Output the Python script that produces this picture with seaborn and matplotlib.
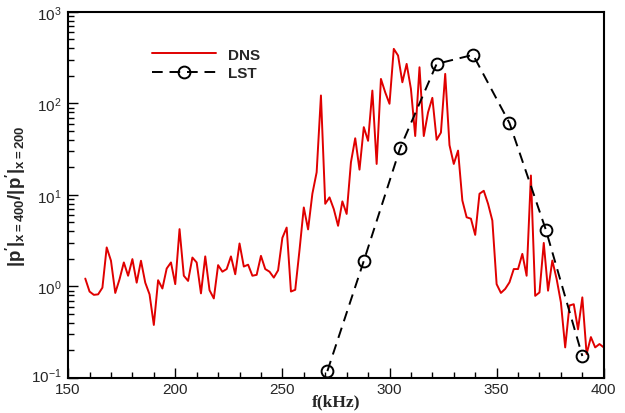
import numpy as np
import pandas as pd
import seaborn as sns
import matplotlib
matplotlib.use("Agg")
import matplotlib.pyplot as plt
from matplotlib.ticker import LogLocator, MultipleLocator, NullFormatter
from matplotlib.transforms import ScaledTranslation

# DNS amplitude ratio, sampled every 2 kHz from 158 to 400 kHz
dns_freq = list(range(158, 401, 2))
dns_ratio = [
    1.22, 0.88, 0.81, 0.82, 0.97, 2.67, 1.91, 0.85, 1.20, 1.83,   # 158-176
    1.31, 1.99, 1.10, 1.91, 1.10, 0.82, 0.38, 1.17, 0.95, 1.57,   # 178-196
    1.83, 1.06, 4.23, 1.31, 1.15, 2.07, 1.83, 0.84, 2.13, 0.91,   # 198-216
    0.74, 1.71, 1.45, 1.55, 2.13, 1.36, 2.95, 1.65, 1.73, 1.31,   # 218-236
    1.34, 2.16, 1.55, 1.45, 1.25, 1.50, 3.40, 4.40, 0.88, 0.92,   # 238-256
    2.50, 7.30, 4.20, 10.3, 17.7, 122.0, 8.0, 9.4, 7.0, 4.6,      # 258-276
    8.5, 6.2, 22.7, 41.6, 18.9, 55.0, 39.0, 138.0, 21.8, 185.0,   # 278-296
    132.0, 99.0, 394.0, 333.0, 170.0, 270.0, 144.0, 44.0, 248.0, 44.0,  # 298-316
    80.0, 115.0, 40.0, 48.0, 210.0, 35.0, 21.8, 30.5, 8.7, 5.7,   # 318-336
    5.5, 3.66, 10.3, 11.1, 8.0, 5.25, 1.06, 0.85, 0.94, 1.11,     # 338-356
    1.55, 1.55, 2.27, 1.31, 16.3, 0.79, 0.86, 2.99, 0.90, 1.92,   # 358-376
    1.21, 0.67, 0.216, 0.62, 0.64, 0.34, 0.76, 0.183, 0.28, 0.216,  # 378-396
    0.235, 0.216,                                                 # 398-400
]

# Linear stability theory prediction
lst_freq = [271, 288, 305, 322, 339, 356, 373, 390]
lst_ratio = [0.119, 1.9, 32.6, 270.0, 339.0, 61.0, 4.14, 0.174]

sns.set_style("ticks")
plt.rcParams["font.family"] = ["Liberation Sans", "DejaVu Sans"]
plt.rcParams["mathtext.fontset"] = "custom"
plt.rcParams["mathtext.rm"] = "Liberation Sans"
plt.rcParams["mathtext.it"] = "Liberation Sans:italic"
plt.rcParams["mathtext.bf"] = "Liberation Sans:bold"

dns = pd.DataFrame({"f": dns_freq, "ratio": dns_ratio})
lst = pd.DataFrame({"f": lst_freq, "ratio": lst_ratio})

fig = plt.figure(figsize=(6.25, 4.14), dpi=100)
ax = fig.add_axes([0.109, 0.0845, 0.857, 0.8845])

sns.lineplot(data=dns, x="f", y="ratio", ax=ax, color="#e00000",
             linewidth=1.4, label="DNS", sort=False)
sns.lineplot(data=lst, x="f", y="ratio", ax=ax, color="black",
             linewidth=1.4, linestyle=(0, (5.5, 3.5)), marker="o",
             markersize=8.5, markerfacecolor="none", markeredgecolor="black",
             markeredgewidth=1.4, label="LST", sort=False)

ax.set_yscale("log")
ax.set_xlim(150, 400)
ax.set_ylim(0.1, 1000)

ax.xaxis.set_major_locator(MultipleLocator(50))
ax.xaxis.set_minor_locator(MultipleLocator(10))
ax.yaxis.set_major_locator(LogLocator(base=10, numticks=10))
ax.yaxis.set_minor_locator(LogLocator(base=10, subs=np.arange(2, 10), numticks=10))
ax.yaxis.set_minor_formatter(NullFormatter())

ax.tick_params(which="both", direction="in", top=False, right=False,
               labelsize=11, width=1.0, color="black")
ax.tick_params(axis="x", pad=3)
ax.tick_params(axis="y", pad=4.5)
ax.tick_params(which="major", length=7)
ax.tick_params(which="minor", length=4)

for side in ax.spines.values():
    side.set_linewidth(1.5)
    side.set_color("black")

ax.set_xlabel("f(kHz)", family=["Liberation Serif"], fontweight="bold",
              fontsize=12.5, labelpad=-2)
ax.set_ylabel(r"$\mathbf{|p^{\prime}|_{x=400}/|p^{\prime}|_{x=200}}$",
              fontsize=13.5, labelpad=2)

leg = ax.legend(loc="upper left", bbox_to_anchor=(0.13, 0.94), frameon=False,
                handlelength=4.2, handletextpad=0.8, labelspacing=0.3,
                prop={"weight": "bold", "size": 11})

# lift the lowest decade label slightly so it clears the "150" label
fig.canvas.draw()
for tick in ax.yaxis.get_major_ticks():
    if np.isclose(tick.get_loc(), 0.1):
        lbl = tick.label1
        lbl.set_transform(lbl.get_transform()
                          + ScaledTranslation(0, 3 / 72, fig.dpi_scale_trans))

fig.savefig("out.png", dpi=100, facecolor="white")
